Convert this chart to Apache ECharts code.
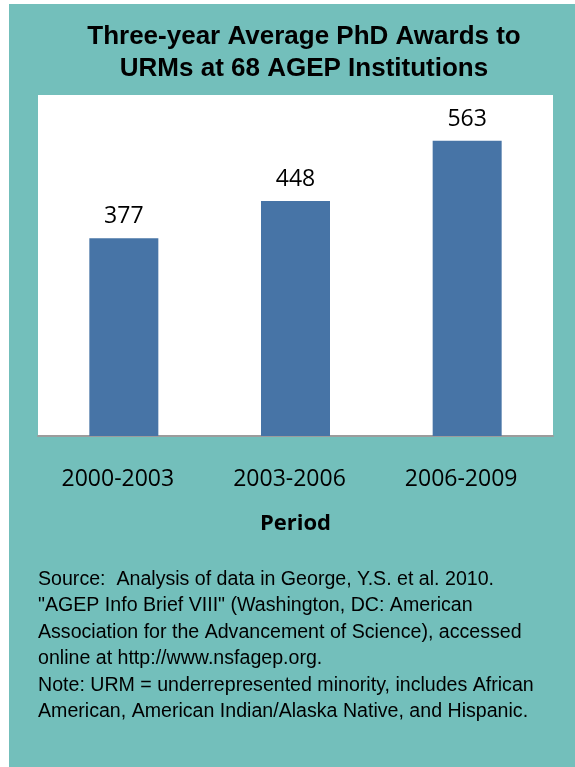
<!DOCTYPE html>
<html>
<head>
<meta charset="utf-8">
<script src="https://cdn.jsdelivr.net/npm/echarts@6/dist/echarts.min.js"></script>
<style>
  html, body { margin: 0; padding: 0; background: #ffffff; }
  #chart { width: 575px; height: 767px; }
</style>
</head>
<body>
<div id="chart"></div>
<script>
const periods = ["2000-2003", "2003-2006", "2006-2009"];
const awards = [377, 448, 563];
const footnoteLines = [
  "Source:  Analysis of data in George, Y.S. et al. 2010.",
  "\"AGEP Info Brief VIII\" (Washington, DC: American",
  "Association for the Advancement of Science), accessed",
  "online at http://www.nsfagep.org.",
  "Note: URM = underrepresented minority, includes African",
  "American, American Indian/Alaska Native, and Hispanic."
];

const colors = {
  panel: "#73bfbb",
  bar: "#4774a6",
  ink: "#000000",
  axis: "#9c9c9c"
};

const labelFont = "'Open Sans', 'Noto Sans', sans-serif";
const arialFont = "'Liberation Sans', Arial, sans-serif";

const chart = echarts.init(document.getElementById("chart"), null, { renderer: "canvas" });

chart.setOption({
  backgroundColor: "#ffffff",
  animation: false,
  graphic: [
    {
      type: "rect",
      z: -10,
      silent: true,
      shape: { x: 9, y: 4, width: 566, height: 763 },
      style: { fill: colors.panel }
    },
    {
      type: "text",
      left: 38,
      top: 566,
      silent: true,
      style: {
        text: footnoteLines.join("\n"),
        font: "19.6px " + arialFont,
        lineHeight: 26.5,
        fill: colors.ink
      }
    }
  ],
  title: {
    text: "Three-year Average PhD Awards to\nURMs at 68 AGEP Institutions",
    left: 299,
    top: 16,
    textAlign: "center",
    textStyle: {
      fontFamily: arialFont,
      fontWeight: "bold",
      fontSize: 26,
      lineHeight: 32,
      color: colors.ink
    }
  },
  grid: {
    left: 38,
    right: 22,
    top: 95,
    bottom: 331,
    show: true,
    backgroundColor: "#ffffff",
    borderWidth: 0
  },
  xAxis: {
    type: "category",
    data: periods,
    axisLine: { lineStyle: { color: colors.axis, width: 2 } },
    axisTick: { show: false },
    axisLabel: { fontFamily: labelFont, fontSize: 23, color: colors.ink, margin: 32, padding: [0, 12, 0, 0] },
    name: "Period",
    nameLocation: "middle",
    nameGap: 77,
    nameTextStyle: { fontFamily: labelFont, fontWeight: "bold", fontSize: 22, color: colors.ink }
  },
  yAxis: {
    type: "value",
    min: 0,
    max: 650,
    show: false
  },
  series: [
    {
      type: "bar",
      data: awards,
      barWidth: 69,
      itemStyle: { color: colors.bar },
      label: {
        show: true,
        position: "top",
        distance: 10,
        fontFamily: labelFont,
        fontSize: 23,
        color: colors.ink
      }
    }
  ]
});
</script>
</body>
</html>
